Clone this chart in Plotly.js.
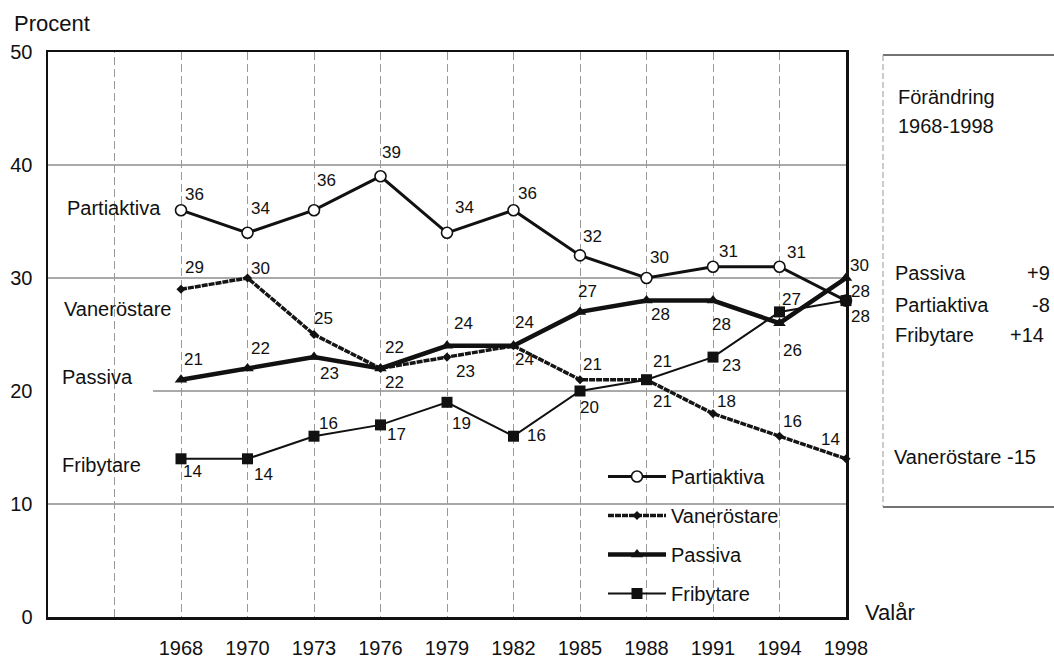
<!DOCTYPE html>
<html>
<head>
<meta charset="utf-8">
<script src="https://cdn.plot.ly/plotly-3.0.1.min.js"></script>
<style>html,body{margin:0;padding:0;background:#fff}#chart{width:1054px;height:657px}</style>
</head>
<body>
<div id="chart"></div>
<script>
// ---- data ----
const years = ["1968","1970","1973","1976","1979","1982","1985","1988","1991","1994","1998"];
const partiaktiva = [36,34,36,39,34,36,32,30,31,31,28];
const vanerostare = [29,30,25,22,23,24,21,21,18,16,14];
const passiva     = [21,22,23,22,24,24,27,28,28,26,30];
const fribytare   = [14,14,16,17,19,16,20,21,23,27,28];
const seriesNames = ["Partiaktiva","Vaneröstare","Passiva","Fribytare"];
const yTicks = [0,10,20,30,40,50];
const changeLabels = ["Passiva","Partiaktiva","Fribytare"];
const changeValues = ["+9","-8","+14"];
const changeLast = "Vaneröstare -15";

// ---- layout helpers (pixels -> paper) ----
const L=48, R=846, T=52, B=617, W=R-L, H=B-T;
const px = p => (p-L)/W;
const py = p => (B-p)/H;
const FONT = "Liberation Sans, Arial, Helvetica, sans-serif";

// label offsets [dx, dy] in pixels (dy positive = down)
const offs = {
  "Partiaktiva": [[13,-16],[13,-24],[12,-30],[11,-24],[17,-25],[14,-17],[12,-19],[13,-21],[15,-15],[17,-14],[14,16]],
  "Vaneröstare": [[13,-22],[13,-10],[9,-16],[14,14],[18,14],[11,14],[12,-15],[16,22],[13,-12],[13,-15],[-16,-19]],
  "Passiva":     [[12,-20],[13,-20],[15,16],[14,-21],[16,-22],[11,-23],[7,-20],[14,14],[8,24],[13,27],[13,-13]],
  "Fribytare":   [[11,13],[16,16],[14,-13],[16,10],[14,21],[23,-1],[9,16],[16,-18],[18,8],[12,-12],[14,-9]]
};

const vals = [partiaktiva, vanerostare, passiva, fribytare];
const styles = [
  {line:{color:"#111",width:3}, marker:{symbol:"circle",size:11,color:"#fff",line:{color:"#111",width:1.6}}},
  {line:{color:"#151515",width:3.5,dash:"6px,1px"}, marker:{symbol:"diamond",size:7,color:"#111"}},
  {line:{color:"#111",width:4.5}, marker:{symbol:"triangle-up",size:11,color:"#111"}},
  {line:{color:"#111",width:2}, marker:{symbol:"square",size:11,color:"#111"}}
];

const traces = seriesNames.map((n,i)=>({
  type:"scatter", mode:"lines+markers", name:n, x:years, y:vals[i],
  line:styles[i].line, marker:styles[i].marker, legendgroup:n, cliponaxis:false
}));

const annotations = [];
seriesNames.forEach((n,i)=>{
  vals[i].forEach((v,j)=>{
    // category axis: annotation x is the category's serial index
    annotations.push({x:j, y:v, xref:"x", yref:"y", text:String(v), showarrow:false,
      xshift:offs[n][j][0], yshift:-offs[n][j][1], font:{family:FONT,size:17,color:"#111"}});
  });
});

// series labels on the left
const leftLabels = [["Partiaktiva",65,208],["Vaneröstare",62,309],["Passiva",60,377],["Fribytare",60,465]];
leftLabels.forEach(l=>annotations.push({xref:"paper",yref:"paper",x:px(l[1]),y:py(l[2]),xanchor:"left",yanchor:"middle",
  text:l[0],showarrow:false,font:{family:FONT,size:20,color:"#111"}}));

// axis titles
annotations.push({xref:"paper",yref:"paper",x:px(12),y:py(23),xanchor:"left",yanchor:"middle",text:"Procent",showarrow:false,font:{family:FONT,size:22,color:"#111"}});
annotations.push({xref:"paper",yref:"paper",x:px(863),y:py(612),xanchor:"left",yanchor:"middle",text:"Valår",showarrow:false,font:{family:FONT,size:22,color:"#111"}});

// right-hand panel
annotations.push({xref:"paper",yref:"paper",x:px(896),y:py(97),xanchor:"left",yanchor:"middle",text:"Förändring",showarrow:false,font:{family:FONT,size:20,color:"#111"}});
annotations.push({xref:"paper",yref:"paper",x:px(896),y:py(126),xanchor:"left",yanchor:"middle",text:"1968-1998",showarrow:false,font:{family:FONT,size:20,color:"#111"}});
const chY=[273,305,335], chR=[1052,1052,1046];
changeLabels.forEach((c,i)=>{
  annotations.push({xref:"paper",yref:"paper",x:px(893),y:py(chY[i]),xanchor:"left",yanchor:"middle",text:c,showarrow:false,font:{family:FONT,size:20,color:"#111"}});
  annotations.push({xref:"paper",yref:"paper",x:px(chR[i]),y:py(chY[i]),xanchor:"right",yanchor:"middle",text:changeValues[i],showarrow:false,font:{family:FONT,size:20,color:"#111"}});
});
annotations.push({xref:"paper",yref:"paper",x:px(892),y:py(457),xanchor:"left",yanchor:"middle",text:changeLast,showarrow:false,font:{family:FONT,size:20,color:"#111"}});

const shapes = [];
// horizontal grid lines
[10,30,40].forEach(v=>shapes.push({type:"line",xref:"paper",yref:"y",x0:0,x1:1,y0:v,y1:v,layer:"below",line:{color:"#555",width:1}}));
shapes.push({type:"line",xref:"paper",yref:"y",x0:px(153),x1:1,y0:20,y1:20,layer:"below",line:{color:"#555",width:1}});
// extra vertical grid line before first category
shapes.push({type:"line",xref:"x",yref:"paper",x0:-1,x1:-1,y0:0,y1:1,layer:"below",line:{color:"#999",width:1,dash:"8px,4px"}});
// panel box
shapes.push({type:"line",xref:"paper",yref:"paper",x0:px(883),x1:px(1060),y0:py(55),y1:py(55),line:{color:"#444",width:1.5}});
shapes.push({type:"line",xref:"paper",yref:"paper",x0:px(883),x1:px(1060),y0:py(507),y1:py(507),line:{color:"#444",width:1.5}});
shapes.push({type:"line",xref:"paper",yref:"paper",x0:px(883),x1:px(883),y0:py(55),y1:py(507),line:{color:"#999",width:1,dash:"6px,3px"}});

const layout = {
  width:1054, height:657,
  margin:{l:L, r:1054-R, t:T, b:657-B, pad:0},
  paper_bgcolor:"#fff", plot_bgcolor:"#fff",
  font:{family:FONT, color:"#111"},
  showlegend:true,
  legend:{x:px(603), y:py(457), xanchor:"left", yanchor:"top", bgcolor:"rgba(0,0,0,0)",
    itemwidth:58, tracegroupgap:10, font:{family:FONT,size:20,color:"#111"}},
  xaxis:{type:"category", range:[-2,10], showgrid:true, gridcolor:"#999", gridwidth:1, griddash:"8px,4px",
    showline:true, linecolor:"#111", linewidth:2.5, mirror:true, ticks:"", zeroline:false,
    tickfont:{family:FONT,size:20,color:"#111"}, ticklabelstandoff:11, fixedrange:true},
  yaxis:{range:[0,50], tickvals:yTicks, showgrid:false, showline:true, linecolor:"#111", linewidth:2.5, mirror:true,
    ticks:"", zeroline:false, tickfont:{family:FONT,size:20,color:"#111"}, ticklabelstandoff:9, fixedrange:true},
  annotations:annotations, shapes:shapes
};

Plotly.newPlot("chart", traces, layout, {displayModeBar:false, staticPlot:true});
</script>
</body>
</html>
